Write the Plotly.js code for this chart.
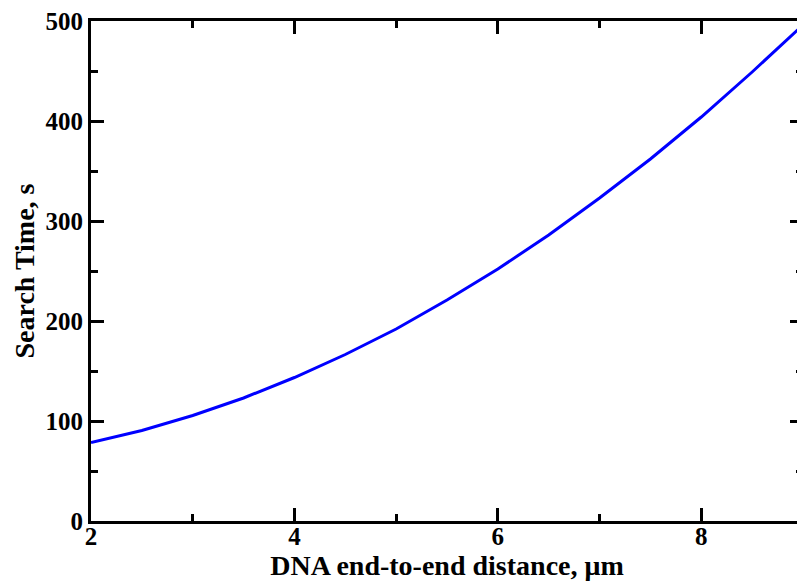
<!DOCTYPE html>
<html>
<head>
<meta charset="utf-8">
<script src="https://cdn.plot.ly/plotly-3.0.1.min.js"></script>
<style>
html, body { margin: 0; padding: 0; overflow: hidden; background: #fff; }
#chart { width: 806px; height: 581px; }
</style>
</head>
<body>
<div id="chart"></div>
<script>
// DNA end-to-end distance (µm)
const distance = [2, 2.5, 3, 3.5, 4, 4.5, 5, 5.5, 6, 6.5, 7, 7.5, 8, 8.5, 9];
// Search time (s)
const searchTime = [78.5, 90.5, 105.5, 123, 143.5, 166.5, 192, 221, 252, 286, 323, 362, 404, 449, 496];

const xTickVals = [2, 4, 6, 8];
const yTickVals = [0, 100, 200, 300, 400, 500];

const fontFamily = '"Liberation Serif", "Times New Roman", serif';

const trace = {
  x: distance,
  y: searchTime,
  type: 'scatter',
  mode: 'lines',
  line: { color: '#0000ff', width: 3 },
  hoverinfo: 'skip'
};

const axisCommon = {
  showline: true,
  linecolor: '#000',
  linewidth: 3,
  mirror: 'ticks',
  ticks: 'inside',
  ticklen: 13,
  tickwidth: 3,
  tickcolor: '#000',
  showgrid: false,
  zeroline: false,
  tickfont: { family: fontFamily, size: 25, color: '#000', weight: 'bold' }
};

const layout = {
  width: 806,
  height: 581,
  margin: { l: 91, r: 3, t: 21, b: 60 },
  paper_bgcolor: '#fff',
  plot_bgcolor: '#fff',
  showlegend: false,
  xaxis: Object.assign({}, axisCommon, {
    range: [2, 9],
    tickmode: 'array',
    tickvals: xTickVals,
    ticktext: xTickVals.map(String),
    ticklabelstandoff: -9,
    minor: { tickvals: [3, 5, 7, 9], ticks: 'inside', ticklen: 7, tickwidth: 3, tickcolor: '#000' },
    title: { text: 'DNA end-to-end distance, \u03bcm', standoff: 7,
             font: { family: fontFamily, size: 28, color: '#000', weight: 'bold' } }
  }),
  yaxis: Object.assign({}, axisCommon, {
    range: [0, 500],
    tickmode: 'array',
    tickvals: yTickVals,
    ticktext: yTickVals.map(String),
    minor: { tickvals: [50, 150, 250, 350, 450], ticks: 'inside', ticklen: 7, tickwidth: 3, tickcolor: '#000' },
    title: { text: 'Search Time, s', standoff: 3,
             font: { family: fontFamily, size: 28, color: '#000', weight: 'bold' } }
  })
};

Plotly.newPlot('chart', [trace], layout, { staticPlot: true, displayModeBar: false });
</script>
</body>
</html>
